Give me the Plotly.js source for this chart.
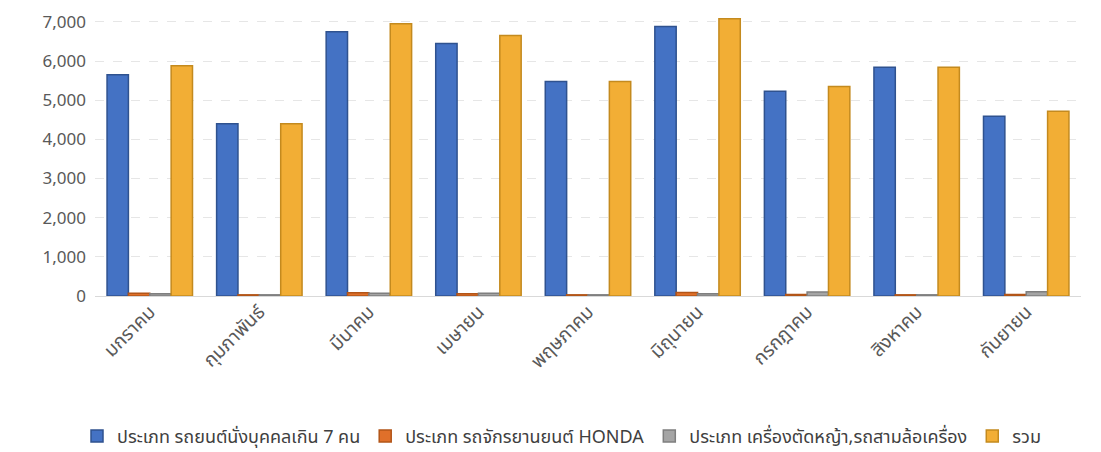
<!DOCTYPE html>
<html>
<head>
<meta charset="utf-8">
<script src="https://cdn.plot.ly/plotly-3.0.1.min.js"></script>
<style>html,body{margin:0;padding:0;background:#fff;}#chart{width:1101px;height:452px;}</style>
</head>
<body>
<div id="chart"></div>
<script>
const months = ["มกราคม","กุมภาพันธ์","มีนาคม","เมษายน","พฤษภาคม","มิถุนายน","กรกฎาคม","สิงหาคม","กันยายน"];
const seriesNames = ["ประเภท รถยนต์นั่งบุคคลเกิน 7 คน","ประเภท รถจักรยานยนต์ HONDA","ประเภท เครื่องตัดหญ้า,รถสามล้อเครื่อง","รวม"];
const cars = [5650, 4400, 6750, 6450, 5480, 6880, 5230, 5840, 4590];
const honda = [70, 30, 80, 60, 30, 90, 40, 30, 40];
const mowers = [60, 30, 70, 70, 30, 60, 100, 30, 110];
const total = [5880, 4400, 6950, 6650, 5480, 7080, 5350, 5840, 4720];
const yTicks = [0,1000,2000,3000,4000,5000,6000,7000];
const yTickText = ["0","1,000","2,000","3,000","4,000","5,000","6,000","7,000"];

const colors = ["#4472C4","#E0702A","#A5A5A5","#F2AE35"];
const edge = ["#2F528F","#B25518","#7F7F7F","#C48A1E"];
const vals = [cars, honda, mowers, total];
const font = "Noto Sans, Noto Sans Thai, DejaVu Sans, sans-serif";

const traces = vals.map((v,i)=>({
  type:"bar", x: months, y: v, name: seriesNames[i],
  marker:{color: colors[i], line:{color: edge[i], width:1.5}},
  hoverinfo:"y"
}));

const layout = {
  width:1101, height:452,
  margin:{l:95, r:20, t:16, b:156, autoexpand:false},
  paper_bgcolor:"#fff", plot_bgcolor:"#fff",
  barmode:"group", bargap:0.22, bargroupgap:0,
  font:{family:font, color:"#595959"},
  xaxis:{tickangle:-45, tickfont:{size:19, color:"#595959"}, showline:false, ticks:"", showgrid:false, automargin:false},
  yaxis:{range:[0,7150], tickvals:yTicks, ticktext:yTickText, tickfont:{size:17, color:"#595959"}, automargin:false,
         showgrid:true, gridcolor:"#e6e6e6", griddash:"dash", zeroline:true, zerolinecolor:"#d9d9d9", ticks:"", ticklabelstandoff:8},
  legend:{orientation:"h", xref:"container", yref:"container", x:0.51, xanchor:"center", y:0.035, yanchor:"middle",
          font:{size:18, color:"#404040"}, itemwidth:30, traceorder:"normal"},
  showlegend:true
};
Plotly.newPlot("chart", traces, layout, {staticPlot:true});
</script>
</body>
</html>
